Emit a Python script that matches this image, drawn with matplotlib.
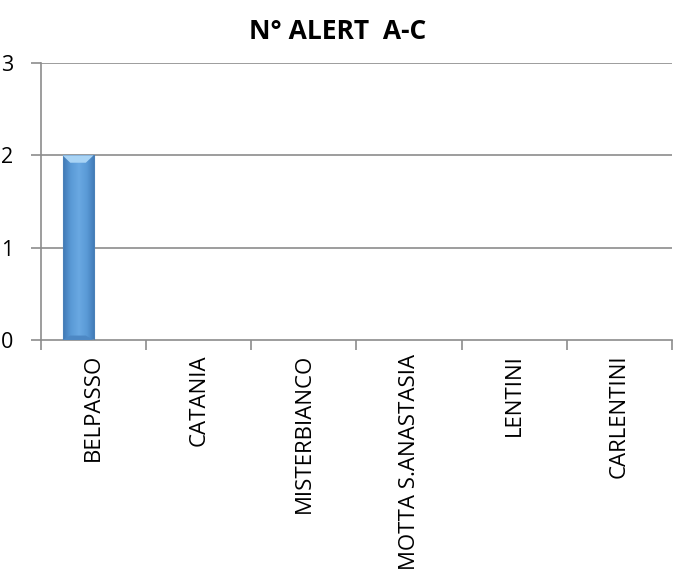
import numpy as np
import matplotlib
matplotlib.use("Agg")
import matplotlib.pyplot as plt
from matplotlib.colors import LinearSegmentedColormap
from matplotlib.patches import Polygon

categories = ["BELPASSO", "CATANIA", "MISTERBIANCO", "MOTTA S.ANASTASIA", "LENTINI", "CARLENTINI"]
alerts = [2, 0, 0, 0, 0, 0]
y_ticks = [0, 1, 2, 3]
title = "N° ALERT  A-C"

plt.rcParams["font.family"] = ["Open Sans", "DejaVu Sans"]

fig = plt.figure(figsize=(6.74, 5.85), dpi=100)
ax = fig.add_axes([0.0608, 0.4188, 0.9362, 0.4735])

grid_c = "#8c8c8c"
n = len(categories)
ax.set_xlim(0, n)
ax.set_ylim(0, 3)
ax.set_yticks(y_ticks)
ax.set_yticklabels([str(v) for v in y_ticks], fontsize=15.5)
ax.set_xticks(np.arange(n + 1))
ax.set_xticklabels([])
ax.set_xticks(np.arange(n) + 0.5, minor=True)
ax.set_xticklabels(categories, minor=True, rotation=90, fontsize=16, va="top")
ax.tick_params(axis="x", which="minor", length=0, pad=10)
ax.tick_params(axis="x", which="major", length=7, color=grid_c, width=1.2)
ax.tick_params(axis="y", length=7, color=grid_c, width=1.2, pad=13)
for s in ["top", "right"]:
    ax.spines[s].set_visible(False)
for s in ["left", "bottom"]:
    ax.spines[s].set_color(grid_c)
    ax.spines[s].set_linewidth(1.2)
for v in y_ticks[1:]:
    ax.axhline(v, color=grid_c, lw=1.2, zorder=1)

# bevelled blue bars
bar_w = 0.295
offset = -0.1475
cmap = LinearSegmentedColormap.from_list(
    "bevel", ["#3f78b5", "#5a9ad6", "#6aa8e2", "#5a9ad6", "#3f78b5"])
grad = np.linspace(0, 1, 256)[None, :]
for i, v in enumerate(alerts):
    if v <= 0:
        continue
    x0 = i + 0.5 + offset - bar_w / 2
    x1 = x0 + bar_w
    bars = ax.bar(i + 0.5 + offset, v, width=bar_w, color="none",
                  edgecolor="#4a80b8", lw=0.8, zorder=3)
    im = ax.imshow(grad, cmap=cmap, extent=[x0, x1, 0, v], aspect="auto", zorder=2)
    im.set_clip_path(bars.patches[0])
    cap = 0.08
    dx = bar_w * 0.25
    ax.add_patch(Polygon([[x0, v], [x1, v], [x1 - dx, v - cap], [x0 + dx, v - cap]],
                         closed=True, facecolor="#a9d4f5", edgecolor="none", zorder=4))
    ax.add_patch(Polygon([[x0, 0], [x1, 0], [x1 - dx, cap * 0.6], [x0 + dx, cap * 0.6]],
                         closed=True, facecolor="#4d88c4", edgecolor="none", zorder=4))
ax.set_xlim(0, n)
ax.set_ylim(0, 3)

fig.text(0.5008, 0.9333, title, ha="center", va="baseline", fontsize=19, fontweight="bold")

fig.savefig("out.png", dpi=100)
